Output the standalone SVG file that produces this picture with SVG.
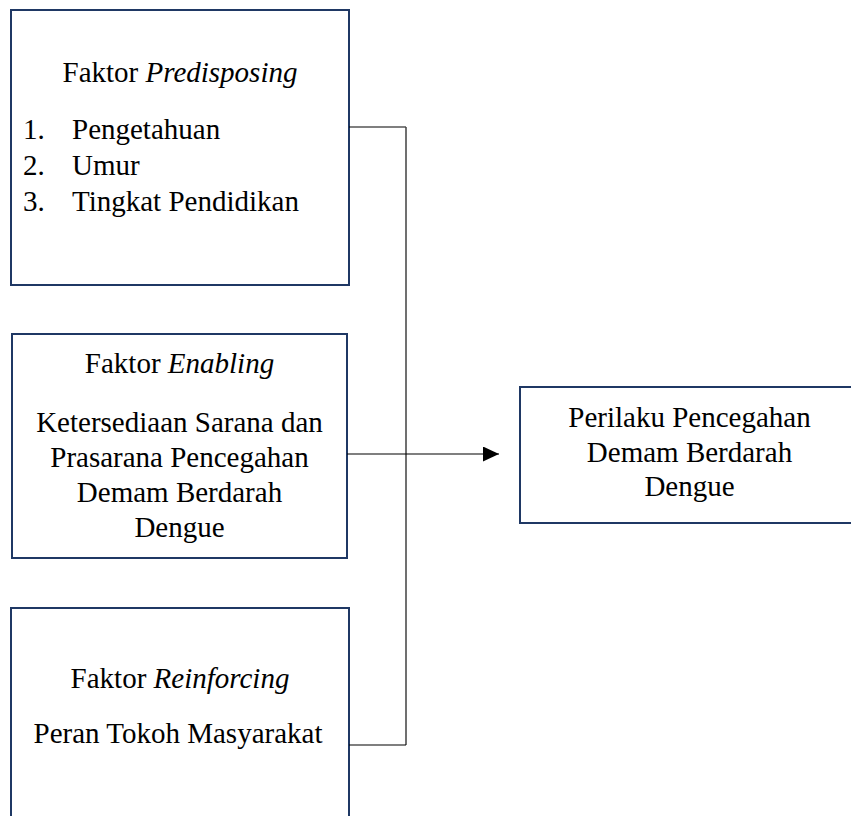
<svg xmlns="http://www.w3.org/2000/svg" width="851" height="816" viewBox="0 0 851 816">
  <style>
    .box { fill: #ffffff; stroke: #1f3864; stroke-width: 2; }
    .t { font-family: "Liberation Serif", "Times New Roman", serif; font-size: 29px; fill: #000000; }
    .c { text-anchor: middle; }
    .i { font-style: italic; }
    .conn { fill: none; stroke: #000000; stroke-width: 1.2; }
    .vert { fill: none; stroke: #404040; stroke-width: 1.5; }
  </style>
  <defs>
    <marker id="arrow" markerUnits="userSpaceOnUse" markerWidth="16" markerHeight="15" refX="16" refY="7.5" orient="auto">
      <path d="M0,0 L16,7.5 L0,15 Z" fill="#000000"/>
    </marker>
  </defs>
  <rect width="851" height="816" fill="#ffffff"/>

  <g id="predisposing">
    <rect class="box" x="11" y="10" width="338" height="275"/>
    <text class="t c" x="180" y="82">Faktor <tspan class="i">Predisposing</tspan></text>
    <text class="t" x="23" y="139">1.</text>
    <text class="t" x="72" y="139">Pengetahuan</text>
    <text class="t" x="23" y="175">2.</text>
    <text class="t" x="72" y="175">Umur</text>
    <text class="t" x="23" y="211">3.</text>
    <text class="t" x="72" y="211">Tingkat Pendidikan</text>
  </g>

  <g id="enabling">
    <rect class="box" x="12" y="334" width="335" height="224"/>
    <text class="t c" x="179.5" y="373">Faktor <tspan class="i">Enabling</tspan></text>
    <text class="t c" x="179.5" y="432">Ketersediaan Sarana dan</text>
    <text class="t c" x="179.5" y="467">Prasarana Pencegahan</text>
    <text class="t c" x="179.5" y="502">Demam Berdarah</text>
    <text class="t c" x="179.5" y="537">Dengue</text>
  </g>

  <g id="reinforcing">
    <rect class="box" x="11" y="608" width="338" height="230"/>
    <text class="t c" x="180" y="688">Faktor <tspan class="i">Reinforcing</tspan></text>
    <text class="t c" x="178" y="743">Peran Tokoh Masyarakat</text>
  </g>

  <g id="perilaku">
    <rect class="box" x="520" y="387" width="345" height="136"/>
    <text class="t c" x="689.5" y="427">Perilaku Pencegahan</text>
    <text class="t c" x="689.5" y="462">Demam Berdarah</text>
    <text class="t c" x="689.5" y="496">Dengue</text>
  </g>

  <g id="connectors">
    <path class="conn" d="M349,127 H406"/>
    <path class="vert" d="M406,127 V745"/>
    <path class="conn" d="M349,745 H406"/>
    <path class="conn" d="M347,454 H499" marker-end="url(#arrow)"/>
  </g>
</svg>
